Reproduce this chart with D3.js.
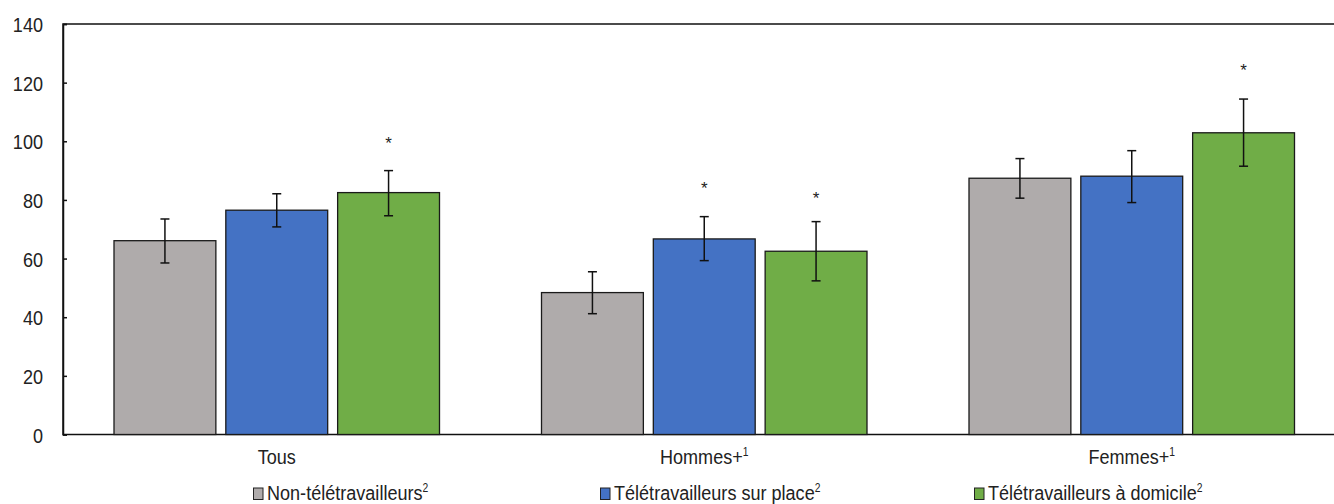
<!DOCTYPE html>
<html><head><meta charset="utf-8">
<script src="https://cdn.jsdelivr.net/npm/d3@7"></script>
<style>
body{margin:0;background:#fff;}
svg{display:block;font-family:"Liberation Sans Narrow","Liberation Sans",Arial,sans-serif;}
</style></head>
<body><svg id="c" width="1334" height="504"></svg>
<script>
const categories = ["Tous", "Hommes+", "Femmes+"];
const categorySup = ["", "1", "1"];
const seriesNames = ["Non-télétravailleurs", "Télétravailleurs sur place", "Télétravailleurs à domicile"];
const seriesColors = ["#AFABAB", "#4472C4", "#70AD47"];
const nonTele = [66.1, 48.4, 87.4];
const teleSurPlace = [76.5, 66.7, 88.1];
const teleDomicile = [82.5, 62.5, 102.9];
const lowNonTele = [58.5, 41.2, 80.6];
const highNonTele = [73.5, 55.5, 94.1];
const lowSurPlace = [70.8, 59.3, 79.1];
const highSurPlace = [82.1, 74.3, 96.8];
const lowDomicile = [74.6, 52.4, 91.5];
const highDomicile = [90.0, 72.6, 114.4];
// significance markers: [category index, series index, label position value]
const stars = [[0, 2, 99.9], [1, 1, 84.3], [1, 2, 80.9], [2, 2, 124.6]];
const yTicks = [0, 20, 40, 60, 80, 100, 120, 140];

const values = [nonTele, teleSurPlace, teleDomicile];
const lows = [lowNonTele, lowSurPlace, lowDomicile];
const highs = [highNonTele, highSurPlace, highDomicile];

const FS = 21, SX = 0.86;
const svg = d3.select("#c");
const mLeft = 63, mTop = 24, mBottom = 434.5, mRight = 1345.5;
const y = d3.scaleLinear().domain([0, 140]).range([mBottom, mTop]);
const x0 = d3.scaleBand().domain(categories).range([mLeft, mRight]).padding(0);
const x1 = d3.scaleBand().domain(seriesNames).range([51, x0.bandwidth() - 51]).paddingInner(0.089).paddingOuter(0);

// plot frame
svg.append("rect").attr("x", mLeft).attr("y", mTop).attr("width", mRight - mLeft).attr("height", mBottom - mTop)
  .attr("fill", "none").attr("stroke", "#111").attr("stroke-width", 1.5);

// y axis
const yAxis = d3.axisRight(y).tickValues(yTicks).tickSize(4).tickFormat(d3.format("d"));
const ya = svg.append("g").attr("transform", `translate(${mLeft},0)`).call(yAxis);
ya.attr("font-size", null).attr("font-family", null);
ya.select(".domain").attr("stroke", "#111").attr("stroke-width", 1.5);
ya.selectAll(".tick line").attr("stroke", "#111").attr("stroke-width", 1.5);
ya.selectAll(".tick text").attr("x", 0).attr("transform", `translate(-20,0) scale(${SX},1)`)
  .attr("text-anchor", "end").attr("font-size", FS)
  .attr("fill", "#222").attr("dy", "0.36em");

// bars
const g = svg.append("g");
seriesNames.forEach((s, si) => {
  categories.forEach((c, ci) => {
    const bx = x0(c) + x1(s);
    g.append("rect").attr("x", bx).attr("y", y(values[si][ci]))
      .attr("width", x1.bandwidth()).attr("height", y(0) - y(values[si][ci]))
      .attr("fill", seriesColors[si]).attr("stroke", "#1a1a1a").attr("stroke-width", 1.3);
  });
});
// error bars
seriesNames.forEach((s, si) => {
  categories.forEach((c, ci) => {
    const cx = x0(c) + x1(s) + x1.bandwidth() / 2;
    const e = g.append("g").attr("stroke", "#111").attr("stroke-width", 1.5);
    e.append("line").attr("x1", cx).attr("x2", cx).attr("y1", y(lows[si][ci])).attr("y2", y(highs[si][ci]));
    e.append("line").attr("x1", cx - 4.5).attr("x2", cx + 4.5).attr("y1", y(lows[si][ci])).attr("y2", y(lows[si][ci]));
    e.append("line").attr("x1", cx - 4.5).attr("x2", cx + 4.5).attr("y1", y(highs[si][ci])).attr("y2", y(highs[si][ci]));
  });
});
// stars
stars.forEach(([ci, si, v]) => {
  const cx = x0(categories[ci]) + x1(seriesNames[si]) + x1.bandwidth() / 2;
  svg.append("text").attr("x", cx).attr("y", y(v) + 7).attr("text-anchor", "middle")
    .attr("font-size", 17).attr("fill", "#222").text("*");
});

// category labels
categories.forEach((c, ci) => {
  const t = svg.append("text")
    .attr("transform", `translate(${x0(c) + x1(seriesNames[1]) + x1.bandwidth() / 2},464) scale(${SX},1)`)
    .attr("text-anchor", "middle").attr("font-size", FS).attr("fill", "#222");
  t.append("tspan").text(c);
  if (categorySup[ci]) t.append("tspan").attr("font-size", 12).attr("dy", -8).text(categorySup[ci]);
});

// legend
const legendX = [253, 600, 974];
seriesNames.forEach((s, si) => {
  const lg = svg.append("g").attr("transform", `translate(${legendX[si]},0)`);
  lg.append("rect").attr("x", 0.5).attr("y", 488).attr("width", 9.5).attr("height", 11.5)
    .attr("fill", seriesColors[si]).attr("stroke", "#222").attr("stroke-width", 1);
  const t = lg.append("text").attr("transform", `translate(14,500) scale(${SX},1)`)
    .attr("font-size", FS).attr("fill", "#222");
  t.append("tspan").text(s);
  t.append("tspan").attr("font-size", 12).attr("dy", -8).text("2");
});
</script></body></html>
